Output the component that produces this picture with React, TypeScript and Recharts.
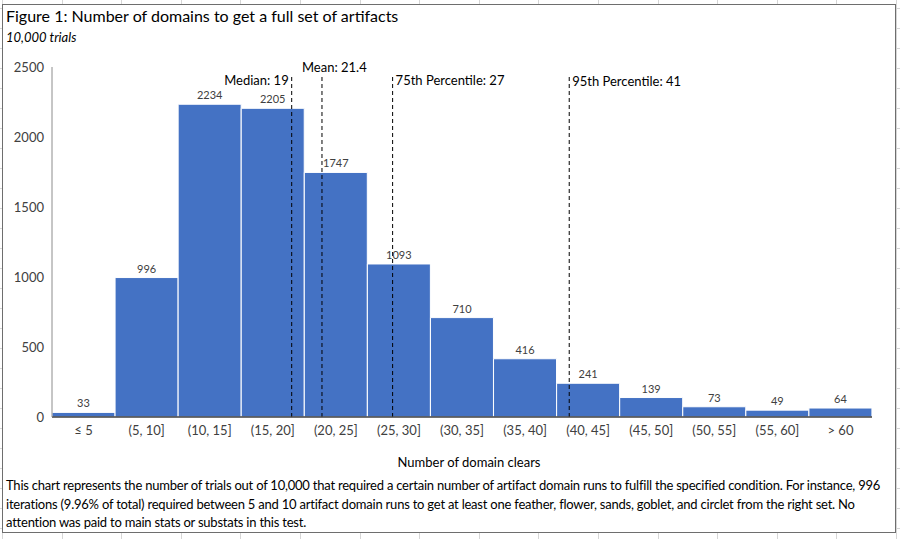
import { BarChart, Bar, XAxis, YAxis, ReferenceLine, LabelList } from "recharts";

const BINS = ["≤ 5", "(5, 10]", "(10, 15]", "(15, 20]", "(20, 25]", "(25, 30]", "(30, 35]", "(35, 40]", "(40, 45]", "(45, 50]", "(50, 55]", "(55, 60]", "> 60"];
const BIN_UPPER = [5, 10, 15, 20, 25, 30, 35, 40, 45, 50, 55, 60, 65];
const COUNTS = [33, 996, 2234, 2205, 1747, 1093, 710, 416, 241, 139, 73, 49, 64];
const Y_TICKS = [0, 500, 1000, 1500, 2000, 2500];
const MARKER_NAMES = ["Median", "Mean", "75th Percentile", "95th Percentile"];
const MARKER_VALUES = [19, 21.4, 27, 41];
const MARKER_TOP = 2430;

const FONT = "Lato, 'Open Sans', sans-serif";
const TEXT = "#404040";

// label placement per marker: dx from the line, dy from its top
const LABEL_POS: Record<string, { dx: number; dy: number; anchor: "start" | "end" }> = {
  Median: { dx: -3, dy: 3, anchor: "end" },
  Mean: { dx: -20, dy: -10, anchor: "start" },
  "75th Percentile": { dx: 3, dy: 3, anchor: "start" },
  "95th Percentile": { dx: 3, dy: 4, anchor: "start" },
};

const data = BINS.map((bin, i) => ({ bin, upper: BIN_UPPER[i], count: COUNTS[i] }));

function markerLabel(name: string, value: number) {
  return (props: any) => {
    const vb = props.viewBox || {};
    const p = LABEL_POS[name];
    return (
      <text
        x={vb.x + p.dx}
        y={vb.y + p.dy}
        textAnchor={p.anchor}
        dominantBaseline="central"
        fontSize={13}
        fontFamily={FONT}
        fill="#000"
      >
        {`${name}: ${value}`}
      </text>
    );
  };
}

export default function App() {
  return (
    <div
      style={{
        position: "absolute",
        left: 0,
        top: 0,
        width: 900,
        height: 539,
        fontFamily: FONT,
        backgroundColor: "#fff",
        backgroundImage:
          "repeating-linear-gradient(to right, #d6d6d6 0 1px, transparent 1px 59.6px), repeating-linear-gradient(to bottom, #d6d6d6 0 1px, transparent 1px 20px)",
        backgroundPosition: "2px 8px",
        overflow: "hidden",
      }}
    >
      <div
        style={{
          position: "absolute",
          left: 2,
          top: 4,
          width: 892,
          height: 527,
          background: "#fff",
          border: "1px solid #6e6e6e",
        }}
      />
      <div style={{ position: "absolute", left: 6, top: 6, fontSize: 16, color: "#000", whiteSpace: "nowrap" }}>
        Figure 1: Number of domains to get a full set of artifacts
      </div>
      <div style={{ position: "absolute", left: 6, top: 29, fontSize: 13, fontStyle: "italic", color: "#000" }}>
        10,000 trials
      </div>

      <div style={{ position: "absolute", left: 0, top: 0 }}>
        <BarChart
          width={900}
          height={470}
          data={data}
          margin={{ top: 67, right: 28, bottom: 0, left: 7 }}
          barCategoryGap={0}
        >
          <Bar dataKey="count" xAxisId="cat" fill="#4472C4" stroke="#fff" strokeWidth={1} isAnimationActive={false}>
            <LabelList dataKey="count" position="top" offset={5} fontSize={11} fill={TEXT} fontFamily={FONT} />
          </Bar>
          <XAxis
            xAxisId="cat"
            dataKey="bin"
            height={53}
            tickLine={false}
            tickMargin={3}
            interval={0}
            axisLine={{ stroke: "#404040", strokeWidth: 1.5 }}
            tick={{ fontSize: 13, fill: TEXT, fontFamily: FONT }}
            label={{ value: "Number of domain clears", position: "insideBottom", offset: 3, dx: 7, fontSize: 13, fill: "#000", fontFamily: FONT }}
          />
          <XAxis xAxisId="num" dataKey="upper" type="number" domain={[0, 65]} allowDataOverflow hide />
          <YAxis
            width={45}
            domain={[0, 2500]}
            ticks={Y_TICKS}
            tickLine={false}
            axisLine={{ stroke: "#8c8c8c" }}
            tick={{ fontSize: 13, fill: TEXT, fontFamily: FONT }}
          />
          {MARKER_NAMES.map((name, i) => (
            <ReferenceLine
              key={name}
              xAxisId="num"
              segment={[
                { x: MARKER_VALUES[i], y: 0 },
                { x: MARKER_VALUES[i], y: MARKER_TOP },
              ]}
              stroke="#000"
              strokeWidth={1}
              strokeDasharray="4 3"
              label={markerLabel(name, MARKER_VALUES[i])}
            />
          ))}
        </BarChart>
      </div>

      <div
        style={{
          position: "absolute",
          left: 6,
          top: 476,
          fontSize: 13,
          letterSpacing: "-0.22px",
          lineHeight: "18.5px",
          color: "#000",
          whiteSpace: "nowrap",
        }}
      >
        This chart represents the number of trials out of 10,000 that required a certain number of artifact domain runs to fulfill the specified condition. For instance, 996
        <br />
        iterations (9.96% of total) required between 5 and 10 artifact domain runs to get at least one feather, flower, sands, goblet, and circlet from the right set. No
        <br />
        attention was paid to main stats or substats in this test.
      </div>
    </div>
  );
}
